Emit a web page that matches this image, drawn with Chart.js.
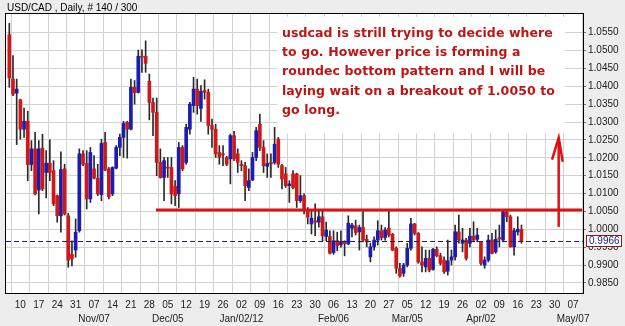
<!DOCTYPE html>
<html>
<head>
<meta charset="utf-8">
<script src="https://cdn.jsdelivr.net/npm/chart.js@4.4.1/dist/chart.umd.min.js"></script>
<style>
html,body{margin:0;padding:0;background:#EDEDED;}
#wrap{width:625px;height:326px;}
</style>
</head>
<body>
<div id="wrap"><canvas id="c" width="625" height="326"></canvas></div>
<script>
// Trading-day index: 0 = Mon Oct 10 2011; first bar is Wed Oct 05 2011 (index -3)
const firstDay = -3;
const openP = [
1.0544,1.0420,1.0381,1.0362,1.0280,1.0302,1.0181,1.0225,1.0110,1.0227,
1.0159,1.0185,1.0164,1.0094,1.0038,1.0169,1.0038,0.9930,0.9942,0.9996,
1.0211,1.0184,1.0085,1.0169,1.0143,1.0097,1.0243,1.0169,1.0099,1.0171,
1.0229,1.0257,1.0299,1.0280,1.0397,1.0383,1.0484,1.0484,1.0414,1.0355,
1.0327,1.0187,1.0145,1.0173,1.0173,1.0120,1.0099,1.0229,1.0187,1.0280,
1.0346,1.0392,1.0338,1.0388,1.0383,1.0290,1.0280,1.0215,1.0211,1.0201,
1.0197,1.0262,1.0211,1.0182,1.0178,1.0117,1.0138,1.0201,1.0294,1.0229,
1.0176,1.0187,1.0187,1.0252,1.0178,1.0155,1.0122,1.0155,1.0155,1.0080,
1.0094,1.0052,1.0015,1.0024,1.0020,1.0035,0.9980,0.9980,0.9935,0.9968,
0.9957,0.9966,0.9959,1.0003,1.0010,0.9993,1.0005,0.9972,0.9923,0.9951,
0.9970,0.9996,0.9977,1.0003,0.9986,0.9947,0.9891,0.9877,0.9900,0.9947,
1.0015,0.9989,0.9909,0.9895,0.9919,0.9888,0.9944,0.9926,0.9914,0.9883,
0.9914,0.9923,0.9993,0.9961,0.9970,0.9961,0.9981,0.9972,0.9965,0.9900,
0.9914,0.9970,0.9937,0.9977,0.9970,1.0049,1.0035,0.9951,0.9993,1.0000
];
const highP = [
1.0576,1.0486,1.0420,1.0364,1.0339,1.0330,1.0248,1.0271,1.0248,1.0266,
1.0220,1.0250,1.0192,1.0096,1.0217,1.0182,1.0045,0.9968,1.0029,1.0225,
1.0220,1.0220,1.0229,1.0206,1.0182,1.0252,1.0271,1.0173,1.0175,1.0234,
1.0266,1.0302,1.0302,1.0420,1.0416,1.0501,1.0502,1.0527,1.0434,1.0367,
1.0367,1.0225,1.0201,1.0201,1.0201,1.0136,1.0243,1.0234,1.0294,1.0355,
1.0425,1.0420,1.0402,1.0418,1.0392,1.0308,1.0294,1.0234,1.0234,1.0204,
1.0266,1.0274,1.0225,1.0192,1.0187,1.0169,1.0215,1.0285,1.0322,1.0248,
1.0211,1.0211,1.0285,1.0257,1.0182,1.0173,1.0136,1.0164,1.0157,1.0150,
1.0099,1.0061,1.0052,1.0071,1.0052,1.0052,1.0020,0.9996,0.9996,0.9992,
0.9996,0.9968,1.0038,1.0017,1.0026,1.0012,1.0054,0.9984,0.9961,0.9979,
1.0024,1.0012,1.0005,1.0054,0.9989,0.9951,0.9905,0.9905,0.9961,1.0031,
1.0017,0.9991,0.9951,0.9942,0.9942,0.9947,0.9951,0.9933,0.9923,0.9970,
0.9942,1.0012,1.0040,1.0003,0.9975,1.0003,1.0021,1.0003,0.9966,0.9923,
0.9984,0.9989,0.9998,1.0012,1.0054,1.0056,1.0040,1.0003,1.0035,1.0012
];
const lowP = [
1.0397,1.0374,1.0237,1.0252,1.0257,1.0136,1.0164,1.0096,1.0043,1.0108,
1.0088,1.0136,1.0066,1.0020,0.9992,1.0040,0.9894,0.9898,0.9922,0.9992,
1.0178,1.0057,1.0075,1.0141,1.0094,1.0080,1.0164,1.0085,1.0094,1.0169,
1.0206,1.0201,1.0199,1.0278,1.0350,1.0381,1.0439,1.0439,1.0306,1.0262,
1.0150,1.0143,1.0080,1.0145,1.0071,1.0066,1.0061,1.0164,1.0182,1.0266,
1.0327,1.0322,1.0302,1.0364,1.0266,1.0229,1.0201,1.0182,1.0178,1.0178,
1.0127,1.0192,1.0159,1.0164,1.0080,1.0108,1.0136,1.0192,1.0220,1.0159,
1.0145,1.0145,1.0182,1.0173,1.0113,1.0117,1.0075,1.0113,1.0061,1.0075,
1.0043,1.0015,0.9987,0.9982,1.0006,0.9968,0.9968,0.9931,0.9930,0.9940,
0.9950,0.9926,0.9957,0.9979,0.9984,0.9942,0.9965,0.9951,0.9909,0.9942,
0.9956,0.9970,0.9970,0.9979,0.9940,0.9877,0.9866,0.9868,0.9895,0.9942,
0.9984,0.9905,0.9881,0.9881,0.9881,0.9886,0.9923,0.9900,0.9877,0.9872,
0.9900,0.9914,0.9961,0.9937,0.9914,0.9951,0.9965,0.9965,0.9900,0.9891,
0.9909,0.9931,0.9933,0.9951,0.9965,1.0021,0.9950,0.9928,0.9984,0.9961
];
const closeP = [
1.0423,1.0378,1.0392,1.0280,1.0302,1.0181,1.0225,1.0099,1.0225,1.0113,
1.0185,1.0159,1.0071,1.0038,1.0167,1.0043,0.9914,0.9918,0.9992,1.0211,
1.0182,1.0085,1.0215,1.0143,1.0099,1.0240,1.0166,1.0091,1.0173,1.0229,
1.0257,1.0296,1.0280,1.0397,1.0382,1.0484,1.0481,1.0464,1.0355,1.0327,
1.0187,1.0145,1.0192,1.0171,1.0099,1.0094,1.0229,1.0169,1.0285,1.0350,
1.0392,1.0346,1.0386,1.0383,1.0290,1.0280,1.0211,1.0201,1.0208,1.0182,
1.0262,1.0197,1.0187,1.0178,1.0122,1.0136,1.0201,1.0276,1.0229,1.0178,
1.0184,1.0183,1.0238,1.0182,1.0141,1.0122,1.0127,1.0117,1.0080,1.0094,
1.0057,1.0034,1.0031,1.0020,1.0035,0.9982,0.9998,0.9933,0.9968,0.9954,
0.9966,0.9960,1.0017,1.0012,0.9991,1.0005,0.9970,0.9965,0.9951,0.9970,
0.9996,0.9977,0.9998,0.9984,0.9942,0.9891,0.9870,0.9900,0.9947,1.0015,
0.9989,0.9909,0.9900,0.9919,0.9886,0.9944,0.9926,0.9905,0.9881,0.9912,
0.9923,0.9993,0.9970,0.9970,0.9919,0.9981,0.9970,0.9984,0.9905,0.9914,
0.9970,0.9933,0.9972,0.9973,1.0049,1.0035,0.9951,0.9996,1.0000,0.9966
];
const dayLabels = ["10","17","24","31","07","14","21","28","05","12","19","26","02","09","16","23","30","06","13","20","27","05","12","19","26","02","09","16","23","30","07"];
const monthLabels = ["","","","","Nov/07","","","","Dec/05","","","","Jan/02/12","","","","","Feb/06","","","","Mar/05","","","","Apr/02","","","","","May/07"];
const yTicks = [0.9850,0.9900,0.9950,1.0000,1.0050,1.0100,1.0150,1.0200,1.0250,1.0300,1.0350,1.0400,1.0450,1.0500,1.0550];
const lastPrice = 0.9966;
const breakoutLevel = 1.0054;
const titleText = "USD/CAD , Daily, # 140 / 300";
const noteLines = [
  "usdcad is strill trying to decide where",
  "to go. However price is forming a",
  "roundec bottom pattern and I will be",
  "laying wait on a breakout of 1.0050 to",
  "go long."
];

const RED = '#D01818', BLUE = '#1C1CB2', WICK = '#2A2A2A';
const bodies = [], wicks = [], colors = [];
for (let k = 0; k < openP.length; k++) {
  const x = firstDay + k;
  bodies.push({x: x, y: [openP[k], closeP[k]]});
  wicks.push({x: x, y: [lowP[k], highP[k]]});
  const d = closeP[k] - openP[k];
  colors.push(Math.abs(d) < 0.00006 ? '#222222' : (d > 0 ? BLUE : RED));
}

const bgPlugin = {
  id: 'bg',
  beforeDraw(chart) {
    const {ctx, chartArea: a} = chart;
    ctx.save();
    ctx.fillStyle = '#EDEDED';
    ctx.fillRect(0, 0, chart.width, chart.height);
    ctx.fillStyle = '#FFFFFF';
    ctx.fillRect(a.left, a.top, a.right - a.left, a.bottom - a.top);
    ctx.restore();
  },
  beforeDatasetsDraw(chart) {
    const {ctx, scales: {x, y}} = chart;
    const l = x.getPixelForValue(69.8), r = x.getPixelForValue(147.8);
    const t = y.getPixelForValue(1.0594), b = y.getPixelForValue(1.0268);
    ctx.save();
    ctx.fillStyle = '#FFFFFF';
    ctx.fillRect(l, t, r - l, b - t);
    ctx.restore();
  },
  afterDraw(chart) {
    const {ctx, chartArea: a, scales: {x, y}} = chart;
    ctx.save();
    ctx.strokeStyle = '#000';
    ctx.lineWidth = 1;
    ctx.strokeRect(a.left - 0.5, a.top - 0.5, a.right - a.left + 1, a.bottom - a.top + 1);
    ctx.fillStyle = '#000';
    ctx.font = '10px "Liberation Sans", Arial, sans-serif';
    ctx.textBaseline = 'alphabetic';
    ctx.fillText(titleText, 7, 11);
    // note text
    ctx.fillStyle = '#C01414';
    ctx.font = 'bold 12.5px "DejaVu Sans", Verdana, sans-serif';
    const w0 = ctx.measureText(noteLines[0]).width;
    const sp = (271 - w0) / noteLines[0].length;
    if ('letterSpacing' in ctx) ctx.letterSpacing = sp.toFixed(2) + 'px';
    const x0 = x.getPixelForValue(71.0);
    noteLines.forEach((s, i) => ctx.fillText(s, x0, 37 + i * 19.2));
    if ('letterSpacing' in ctx) ctx.letterSpacing = '0px';
    // last price label
    const py = Math.round(y.getPixelForValue(lastPrice));
    ctx.fillStyle = '#FFFFFF';
    ctx.fillRect(a.right + 3, py - 6, 35, 12);
    ctx.strokeStyle = '#8B1A1A';
    ctx.strokeRect(a.right + 3.5, py - 5.5, 35, 11);
    ctx.fillStyle = '#1A1A80';
    ctx.font = '10px "Liberation Sans", Arial, sans-serif';
    ctx.textBaseline = 'middle';
    ctx.fillText(lastPrice.toFixed(4), a.right + 6, py + 0.5);
    ctx.restore();
  }
};

new Chart(document.getElementById('c'), {
  type: 'bar',
  data: {
    datasets: [
      {type: 'line', data: [{x: 36.8, y: breakoutLevel}, {x: 152.5, y: breakoutLevel}],
       borderColor: '#DD1111', borderWidth: 3, pointRadius: 0, order: 0, clip: false},
      {type: 'line', data: [{x: 146.1, y: 1.0007}, {x: 146.1, y: 1.0254}],
       borderColor: '#DD1111', borderWidth: 2.5, pointRadius: 0, order: 0},
      {type: 'line', data: [{x: 144.3, y: 1.0195}, {x: 146.1, y: 1.0256}, {x: 147.2, y: 1.0189}],
       borderColor: '#DD1111', borderWidth: 2.5, pointRadius: 0, order: 0},
      {type: 'line', data: [{x: -3.9, y: lastPrice}, {x: 152.7, y: lastPrice}],
       borderColor: '#20205A', borderWidth: 1, borderDash: [5, 3], pointRadius: 0, order: 1},
      {type: 'bar', data: bodies, backgroundColor: colors, barThickness: 3, minBarLength: 1,
       grouped: false, order: 2},
      {type: 'bar', data: wicks, backgroundColor: WICK, barThickness: 1, minBarLength: 1,
       grouped: false, order: 3}
    ]
  },
  options: {
    responsive: false,
    animation: false,
    devicePixelRatio: 1,
    layout: {padding: {left: 6, top: 14, right: 0, bottom: 0}},
    plugins: {legend: {display: false}, tooltip: {enabled: false}},
    scales: {
      x: {
        type: 'linear', min: -3.9, max: 152.7, offset: false,
        afterBuildTicks: s => { s.ticks = dayLabels.map((_, k) => ({value: k * 5})); },
        ticks: {
          autoSkip: false, maxRotation: 0, minRotation: 0, padding: 5, color: '#222',
          font: {size: 10, family: '"Liberation Sans", Arial, sans-serif', lineHeight: 1.4},
          callback: (v, i) => [dayLabels[i], monthLabels[i]]
        },
        grid: {color: '#D2D2D2', drawTicks: false},
        border: {display: false},
        afterFit: s => { s.height = 33; }
      },
      y: {
        position: 'right', min: 0.9822, max: 1.0602,
        afterBuildTicks: s => { s.ticks = yTicks.map(v => ({value: v})); },
        ticks: {
          padding: 2, color: '#222',
          font: {size: 10, family: '"Liberation Sans", Arial, sans-serif'},
          callback: v => v.toFixed(4)
        },
        grid: {color: '#D2D2D2', tickLength: 3, tickColor: '#777'},
        border: {display: false},
        afterFit: s => { s.width = 42; }
      }
    }
  },
  plugins: [bgPlugin]
});
</script>
</body>
</html>
